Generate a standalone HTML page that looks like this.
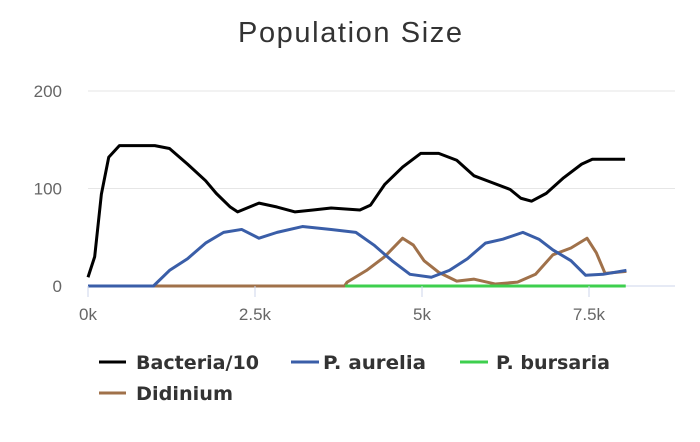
<!DOCTYPE html>
<html><head><meta charset="utf-8"><style>
body{margin:0;background:#fff;width:700px;height:437px;overflow:hidden;font-family:"Liberation Sans",sans-serif}
</style></head><body>
<svg id="chart" width="700" height="437" xmlns="http://www.w3.org/2000/svg">
<text x="350" y="42" text-anchor="middle" font-size="29" fill="#333" textLength="224">Population Size</text>
<g id="grid"></g><g id="series"></g><g id="axes"></g>
<g font-size="19" font-weight="bold" fill="#333" font-family="DejaVu Sans, sans-serif">
<g><line x1="99" y1="362" x2="126" y2="362" stroke="#000" stroke-width="3"/><text x="136" y="369" textLength="123" lengthAdjust="spacingAndGlyphs">Bacteria/10</text></g>
<g><line x1="291" y1="362" x2="319" y2="362" stroke="#3a5ea8" stroke-width="3"/><text x="323" y="369" textLength="103" lengthAdjust="spacingAndGlyphs">P. aurelia</text></g>
<g><line x1="460" y1="362" x2="488" y2="362" stroke="#3ecf4e" stroke-width="3"/><text x="496" y="369" textLength="114" lengthAdjust="spacingAndGlyphs">P. bursaria</text></g>
<g><line x1="99" y1="393" x2="126" y2="393" stroke="#a0714a" stroke-width="3"/><text x="136" y="400" textLength="97" lengthAdjust="spacingAndGlyphs">Didinium</text></g>
</g>
</svg>
<script>
const yTicks=[0,100,200];
const xTicks=[0,2.5,5,7.5];
const xTickLabels=["0k","2.5k","5k","7.5k"];
const bacT=[0,0.1,0.2,0.31,0.47,1.0,1.22,1.49,1.76,1.92,2.13,2.24,2.56,2.83,3.1,3.37,3.64,4.07,4.23,4.44,4.71,4.98,5.25,5.52,5.78,6.05,6.32,6.48,6.64,6.86,7.12,7.39,7.55,8.04];
const bacV=[9,30,94,132,144,144,141,125,108,95,81,76,85,81,76,78,80,78,83,104,122,136,136,129,113,106,99,90,87,95,111,125,130,130];
const aurT=[0,0.98,1.22,1.49,1.76,2.03,2.3,2.56,2.83,3.21,3.64,4.01,4.28,4.55,4.82,5.14,5.41,5.68,5.95,6.21,6.51,6.75,6.96,7.23,7.45,7.71,8.06];
const aurV=[0,0,16,28,44,55,58,49,55,61,58,55,42,26,12,9,16,28,44,48,55,48,37,26,11,12,16];
const didT=[0,3.84,3.88,4.17,4.44,4.71,4.87,5.03,5.25,5.52,5.78,6.1,6.43,6.7,6.96,7.23,7.47,7.61,7.74,8.06];
const didV=[0,0,4,16,30,49,42,26,14,5,7,2,4,12,32,39,49,34,13,15];
const burT=[3.85,8.05];
const burV=[0,0];
const X=t=>88+t*66.8, Y=v=>286-v*0.975;
const ns="http://www.w3.org/2000/svg";
function mk(tag,attrs,parent){const e=document.createElementNS(ns,tag);for(const k in attrs)e.setAttribute(k,attrs[k]);document.getElementById(parent).appendChild(e);return e;}
yTicks.forEach(v=>{
 const l=mk('line',{x1:88,x2:675,y1:Y(v),y2:Y(v),stroke:v===0?'#ccd6eb':'#e6e6e6','stroke-width':1},'grid');
 
 
 const t=mk('text',{x:62,y:Y(v)+6,'text-anchor':'end','font-size':17,fill:'#666'},'axes');t.textContent=v;
 
 
});
xTicks.forEach((v,i)=>{
 const l=mk('line',{x1:X(v),x2:X(v),y1:286,y2:297,stroke:'#ccd6eb'},'axes');
 
 
 const t=mk('text',{x:X(v),y:320,'text-anchor':'middle','font-size':17,fill:'#666'},'axes');t.textContent=xTickLabels[i];
 
 
});
function line(ts,vs,color,name){
 const p=mk('polyline',{points:ts.map((t,i)=>X(t)+','+Y(vs[i])).join(' '),fill:'none',stroke:color,'stroke-width':3,'stroke-linejoin':'round'},'series');
 
 
}
line(didT,didV,'#a0714a','didinium-line');
line(burT,burV,'#3ecf4e','p-bursaria-line');
line(aurT,aurV,'#3a5ea8','p-aurelia-line');
line(bacT,bacV,'#000','bacteria-line');
</script>
</body></html>
